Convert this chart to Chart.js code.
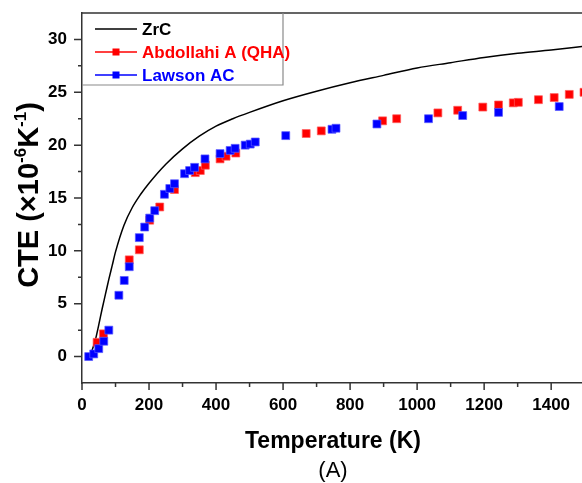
<!DOCTYPE html>
<html>
<head>
<meta charset="utf-8">
<script src="https://cdn.jsdelivr.net/npm/chart.js@4/dist/chart.umd.min.js"></script>
<style>
  html, body { margin: 0; padding: 0; background: #fff; }
  #wrap { width: 582px; height: 483px; }
</style>
</head>
<body>
<div id="wrap"><canvas id="cteChart"></canvas></div>
<script>
// ZrC calculated curve
const zrcTemp = [20, 30, 40, 50, 60, 70, 80, 90, 100, 125, 150, 175, 200, 250, 300, 350, 400, 450, 500, 600, 700, 800, 900, 1000, 1100, 1200, 1300, 1400, 1500];
const zrcCte = [0, 0.6, 1.6, 3.0, 4.5, 5.9, 7.3, 8.6, 9.9, 12.4, 14.1, 15.35, 16.4, 18.2, 19.65, 20.85, 21.8, 22.5, 23.1, 24.2, 25.1, 25.9, 26.6, 27.3, 27.8, 28.3, 28.7, 29.0, 29.35];

// Abdollahi A (QHA)
const abdTemp = [45, 64, 141, 171, 202, 232, 276, 338, 353, 368, 412, 430, 459, 669, 714, 897, 939, 1062, 1121, 1196, 1243, 1287, 1302, 1362, 1409, 1454, 1498];
const abdCte = [1.35, 2.15, 9.15, 10.1, 12.9, 14.15, 15.8, 17.4, 17.6, 18.1, 18.7, 18.95, 19.25, 21.1, 21.35, 22.3, 22.5, 23.05, 23.3, 23.6, 23.8, 24.0, 24.05, 24.3, 24.5, 24.8, 25.0];

// Lawson AC
const lawTemp = [20, 35, 50, 65, 80, 110, 126, 141, 171, 187, 202, 217, 246, 262, 276, 306, 321, 336, 367, 412, 442, 457, 487, 502, 517, 608, 746, 758, 880, 1034, 1136, 1243, 1424];
const lawCte = [0, 0.25, 0.75, 1.45, 2.5, 5.8, 7.2, 8.5, 11.25, 12.25, 13.1, 13.8, 15.35, 15.9, 16.35, 17.3, 17.6, 17.9, 18.7, 19.2, 19.5, 19.7, 20.0, 20.1, 20.3, 20.9, 21.5, 21.6, 22.0, 22.5, 22.8, 23.1, 23.65];

const xMajor = [0, 200, 400, 600, 800, 1000, 1200, 1400];
const xMinor = [100, 300, 500, 700, 900, 1100, 1300];
const yMajor = [0, 5, 10, 15, 20, 25, 30];
const yMinor = [2.5, 7.5, 12.5, 17.5, 22.5, 27.5];

const legendItems = [
  { label: 'ZrC', color: '#000000', marker: false },
  { label: 'Abdollahi A (QHA)', color: '#FF0000', marker: true },
  { label: 'Lawson AC', color: '#0000FF', marker: true },
];

const FONT = '"Liberation Sans", Arial, sans-serif';
const AXIS = '#333333';

function toPoints(xs, ys) {
  return xs.map((x, i) => ({ x: x, y: ys[i] }));
}

// tick marks (major + minor), top frame line, legend box, axis titles
const decorPlugin = {
  id: 'decor',
  afterDraw(chart) {
    const ctx = chart.ctx;
    const area = chart.chartArea;
    const xs = chart.scales.x;
    const ys = chart.scales.y;
    ctx.save();

    // ticks
    ctx.strokeStyle = AXIS;
    ctx.lineWidth = 1.5;
    ctx.beginPath();
    xMajor.forEach(v => { const p = xs.getPixelForValue(v); ctx.moveTo(p, area.bottom); ctx.lineTo(p, area.bottom + 7); });
    xMinor.forEach(v => { const p = xs.getPixelForValue(v); ctx.moveTo(p, area.bottom); ctx.lineTo(p, area.bottom + 4); });
    yMajor.forEach(v => { const p = ys.getPixelForValue(v); ctx.moveTo(area.left, p); ctx.lineTo(area.left - 8, p); });
    yMinor.forEach(v => { const p = ys.getPixelForValue(v); ctx.moveTo(area.left, p); ctx.lineTo(area.left - 4, p); });
    // top frame
    ctx.moveTo(area.left, area.top);
    ctx.lineTo(area.right, area.top);
    ctx.stroke();

    // legend box
    const bx = area.left, by = area.top, bw = 201, bh = 72;
    ctx.fillStyle = '#fff';
    ctx.fillRect(bx + 1, by + 1, bw - 1, bh - 1);
    ctx.strokeStyle = '#8a8a8a';
    ctx.lineWidth = 1.2;
    ctx.beginPath();
    ctx.moveTo(bx, by + bh);
    ctx.lineTo(bx + bw, by + bh);
    ctx.lineTo(bx + bw, by);
    ctx.stroke();

    ctx.font = 'bold 17px ' + FONT;
    ctx.textBaseline = 'middle';
    ctx.textAlign = 'left';
    legendItems.forEach((it, i) => {
      const ly = by + 16 + i * 23;
      ctx.strokeStyle = it.color;
      ctx.lineWidth = 1.3;
      ctx.beginPath();
      ctx.moveTo(bx + 13, ly);
      ctx.lineTo(bx + 55, ly);
      ctx.stroke();
      if (it.marker) {
        ctx.fillStyle = it.color;
        ctx.fillRect(bx + 30.5, ly - 3.5, 7, 7);
      }
      ctx.fillStyle = it.color;
      ctx.fillText(it.label, bx + 60, ly + 1);
    });

    // x title + panel label
    ctx.fillStyle = '#000';
    ctx.textAlign = 'center';
    ctx.textBaseline = 'alphabetic';
    const cx = (area.left + 584) / 2;
    ctx.font = 'bold 23px ' + FONT;
    ctx.fillText('Temperature (K)', cx, 448);
    ctx.font = '22px ' + FONT;
    ctx.fillText('(A)', cx, 477);

    // y title with superscripts
    const parts = [
      ['CTE (\u00d710', false],
      ['-6', true],
      ['K', false],
      ['-1', true],
      [')', false],
    ];
    const mainFont = 'bold 29px ' + FONT;
    const supFont = 'bold 17px ' + FONT;
    let total = 0;
    parts.forEach(p => { ctx.font = p[1] ? supFont : mainFont; total += ctx.measureText(p[0]).width; });
    ctx.translate(38, (area.top + area.bottom) / 2 - 3);
    ctx.rotate(-Math.PI / 2);
    ctx.textAlign = 'left';
    let x0 = -total / 2;
    parts.forEach(p => {
      ctx.font = p[1] ? supFont : mainFont;
      ctx.fillText(p[0], x0, p[1] ? -12 : 0);
      x0 += ctx.measureText(p[0]).width;
    });
    ctx.restore();
  }
};

new Chart(document.getElementById('cteChart'), {
  type: 'scatter',
  data: {
    datasets: [
      {
        label: 'Lawson AC',
        data: toPoints(lawTemp, lawCte),
        pointStyle: 'rect',
        pointRadius: 5.6,
        pointBackgroundColor: '#0000FF',
        pointBorderColor: 'rgba(90,90,255,0.7)',
        pointBorderWidth: 1,
        showLine: false,
        order: 0,
      },
      {
        label: 'Abdollahi A (QHA)',
        data: toPoints(abdTemp, abdCte),
        pointStyle: 'rect',
        pointRadius: 5.6,
        pointBackgroundColor: '#FF0000',
        pointBorderColor: 'rgba(255,90,90,0.7)',
        pointBorderWidth: 1,
        showLine: false,
        order: 1,
      },
      {
        label: 'ZrC',
        data: toPoints(zrcTemp, zrcCte),
        showLine: true,
        borderColor: '#000000',
        borderWidth: 1.5,
        pointRadius: 0,
        cubicInterpolationMode: 'monotone',
        order: 2,
      },
    ]
  },
  options: {
    responsive: true,
    maintainAspectRatio: false,
    animation: false,
    layout: { autoPadding: false, padding: { top: 13, right: 0, left: 0, bottom: 0 } },
    plugins: {
      legend: { display: false },
      tooltip: { enabled: false },
    },
    scales: {
      x: {
        type: 'linear',
        min: 0,
        max: 1492,
        afterBuildTicks: function(scale) {
          scale.ticks = xMajor.map(v => ({ value: v }));
        },
        afterFit: function(scale) {
          scale.height = 100;
          scale.paddingLeft = 0;
          scale.paddingRight = 0;
        },
        grid: { display: false, drawTicks: false },
        border: { display: true, color: AXIS, width: 1.5 },
        ticks: {
          autoSkip: false,
          maxRotation: 0,
          padding: 12,
          color: '#000',
          font: { family: FONT, size: 17, weight: 'bold' },
          callback: function(value) {
            return String(value);
          }
        }
      },
      y: {
        type: 'linear',
        min: -2.5,
        max: 32.5,
        afterFit: function(scale) {
          scale.width = 82;
          scale.paddingTop = 0;
          scale.paddingBottom = 0;
        },
        grid: { display: false, drawTicks: false },
        border: { display: true, color: AXIS, width: 1.5 },
        ticks: {
          stepSize: 2.5,
          autoSkip: false,
          padding: 15,
          color: '#000',
          font: { family: FONT, size: 17, weight: 'bold' },
          callback: function(value) {
            return yMajor.includes(value) ? String(value) : '';
          }
        }
      }
    }
  },
  plugins: [decorPlugin]
});
</script>
</body>
</html>
